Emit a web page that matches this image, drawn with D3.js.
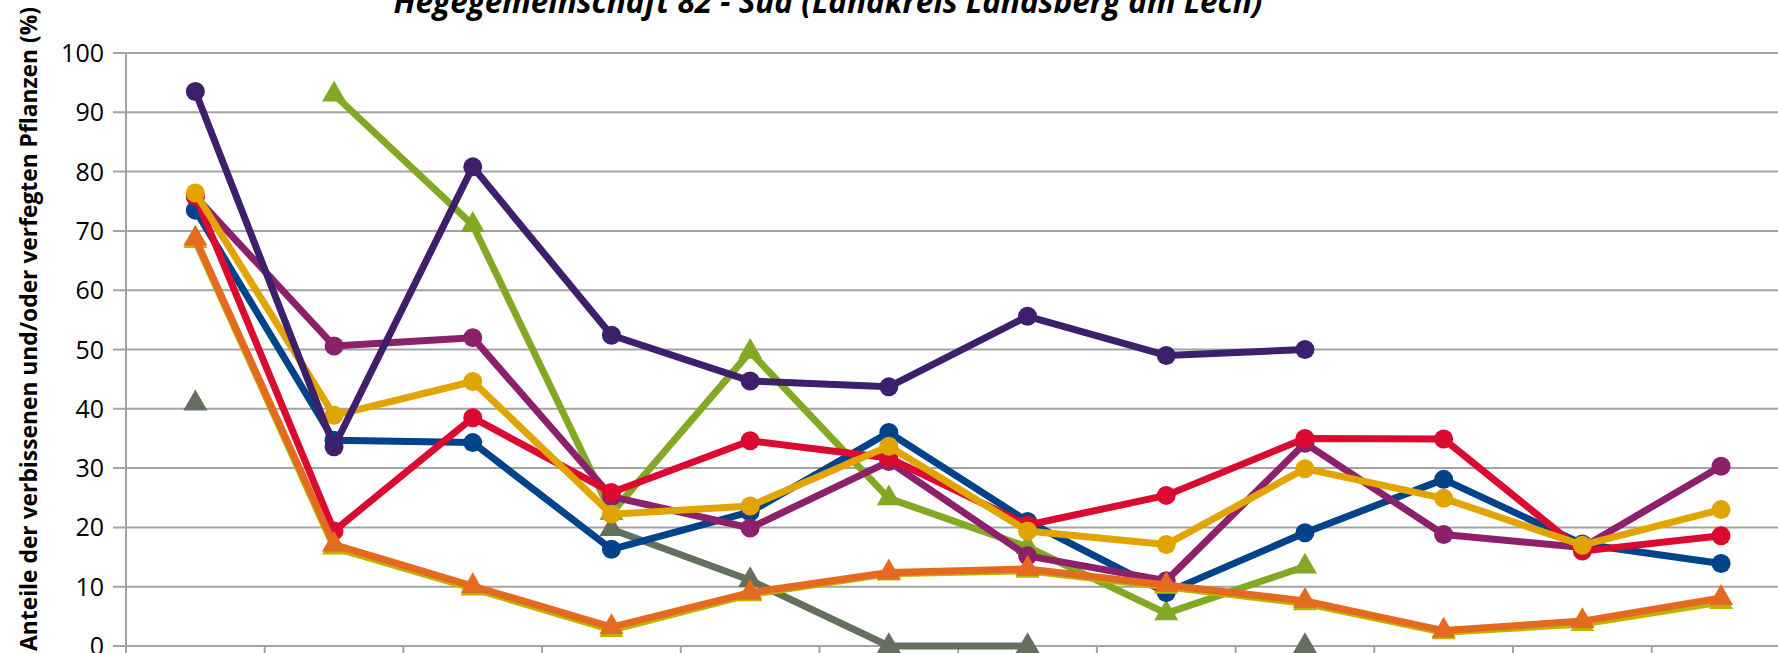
<!DOCTYPE html>
<html>
<head>
<meta charset="utf-8">
<script src="https://cdnjs.cloudflare.com/ajax/libs/d3/7.8.5/d3.min.js"></script>
<style>
  html, body { margin: 0; padding: 0; background: #fff; overflow: hidden; }
  svg { display: block; }
</style>
</head>
<body>
<div id="chart"></div>
<script>

// Survey rounds on the x axis (labels sit below the visible area)
var categories = ["1", "2", "3", "4", "5", "6", "7", "8", "9", "10", "11", "12"];

// Series values (%), null = no value
var seriesPurple  = [93.5, 33.6, 80.8, 52.4, 44.7, 43.7, 55.6, 49.0, 50.0, null, null, null];
var seriesGreen   = [null, 93.0, 71.0, 22.4, 49.6, 24.9, 16.7, 5.5, 13.4, null, null, null];
var seriesGrey    = [40.9, null, null, 19.7, 11.1, 0, 0, null, 0, null, null, null];
var seriesBlue    = [73.5, 34.7, 34.3, 16.3, 22.6, 36.0, 21.0, 9.0, 19.1, 28.1, 17.2, 13.9];
var seriesMagenta = [75.8, 50.6, 52.0, 25.2, 19.9, 31.1, 15.2, 11.0, 34.2, 18.8, 16.6, 30.3];
var seriesRed     = [75.9, 19.4, 38.5, 25.9, 34.6, 31.7, 20.4, 25.4, 35.0, 34.9, 16.0, 18.6];
var seriesGold    = [76.4, 38.9, 44.6, 22.2, 23.6, 33.7, 19.4, 17.1, 29.9, 24.9, 17.0, 23.0];
var seriesOlive   = [68.3, 16.6, 9.7, 2.7, 8.7, 12.2, 12.7, 10.0, 7.2, 2.3, 3.7, 7.4];
var seriesOrange  = [68.7, 17.1, 10.1, 3.2, 9.0, 12.4, 13.0, 10.3, 7.6, 2.6, 4.2, 8.1];

var yTicks = [0, 10, 20, 30, 40, 50, 60, 70, 80, 90, 100];

var titleText = "Hegegemeinschaft 82 - Süd (Landkreis Landsberg am Lech)";
var yTitleText = "Anteile der verbissenen und/oder verfegten Pflanzen (%)";

// drawing order = bottom to top
var series = [
    { values: seriesGrey,    color: "#646f5f", marker: "triangle" },
    { values: seriesGreen,   color: "#83a823", marker: "triangle" },
    { values: seriesBlue,    color: "#00438a", marker: "circle" },
    { values: seriesMagenta, color: "#8d206a", marker: "circle" },
    { values: seriesRed,     color: "#da0a30", marker: "circle" },
    { values: seriesGold,    color: "#e2a400", marker: "circle" },
    { values: seriesPurple,  color: "#3d1f6b", marker: "circle" },
    { values: seriesOlive,   color: "#bdb300", marker: "triangle" },
    { values: seriesOrange,  color: "#e36a1f", marker: "triangle" }
];

///////////////////////////////////////////////////////////////////////////
///////////////////////////// Set up the SVG //////////////////////////////
///////////////////////////////////////////////////////////////////////////

var width = 1778,
    height = 653;

var plotLeft = 126,
    plotTop = 53,
    plotBottom = 646,
    bandWidth = 138.7;

var svg = d3.select("#chart")
    .append("svg")
        .attr("width", width)
        .attr("height", height);

// the plot runs past the right edge of the picture
var x = d3.scaleBand()
    .domain(categories)
    .range([plotLeft, plotLeft + bandWidth * categories.length]);

var y = d3.scaleLinear()
    .domain([0, 100])
    .range([plotBottom, plotTop]);

///////////////////////////////////////////////////////////////////////////
////////////////////////////////// Axes ///////////////////////////////////
///////////////////////////////////////////////////////////////////////////

// Gridlines with their outer tick
svg.append("g")
    .selectAll("line")
    .data(yTicks)
    .enter()
    .append("line")
        .attr("x1", plotLeft - 13)
        .attr("x2", width)
        .attr("y1", d => y(d))
        .attr("y2", d => y(d))
        .style("stroke", "#a3a3a3")
        .style("stroke-width", 2);

// Y tick labels
svg.append("g")
    .selectAll("text")
    .data(yTicks)
    .enter()
    .append("text")
        .attr("x", plotLeft - 22)
        .attr("y", d => y(d))
        .attr("dy", "0.36em")
        .attr("text-anchor", "end")
        .text(d => d)
        .style("font-family", "'Open Sans', sans-serif")
        .style("font-size", "25px")
        .style("fill", "#000");

// Y axis line
svg.append("line")
    .attr("x1", plotLeft)
    .attr("x2", plotLeft)
    .attr("y1", plotTop)
    .attr("y2", height)
    .style("stroke", "#a3a3a3")
    .style("stroke-width", 2);

// X tick marks at category boundaries
svg.append("g")
    .selectAll("line")
    .data(categories)
    .enter()
    .append("line")
        .attr("x1", d => x(d) + x.bandwidth())
        .attr("x2", d => x(d) + x.bandwidth())
        .attr("y1", plotBottom)
        .attr("y2", height)
        .style("stroke", "#a3a3a3")
        .style("stroke-width", 2);

///////////////////////////////////////////////////////////////////////////
///////////////////////////////// Titles //////////////////////////////////
///////////////////////////////////////////////////////////////////////////

svg.append("text")
    .attr("x", 828)
    .attr("y", 13)
    .attr("text-anchor", "middle")
    .text(titleText)
    .style("font-family", "'Open Sans', sans-serif")
    .style("font-size", "31.5px")
    .style("font-weight", "bold")
    .style("font-style", "italic");

svg.append("text")
    .attr("transform", "translate(37," + 329 + ") rotate(-90)")
    .attr("text-anchor", "middle")
    .text(yTitleText)
    .style("font-family", "'Open Sans', sans-serif")
    .style("font-size", "22.8px")
    .style("font-weight", "bold");

///////////////////////////////////////////////////////////////////////////
///////////////////////////////// Series //////////////////////////////////
///////////////////////////////////////////////////////////////////////////

var cx = i => x(categories[i]) + x.bandwidth() / 2;

var line = d3.line()
    .defined(d => d != null)
    .x((d, i) => cx(i))
    .y(d => y(d));

var triangle = d3.symbol().type(d3.symbolTriangle).size(250);

series.forEach(function(s) {

    var g = svg.append("g");

    g.append("path")
        .attr("d", line(s.values))
        .attr("fill", "none")
        .attr("stroke", s.color)
        .attr("stroke-width", 7)
        .attr("stroke-linejoin", "round");

    var pts = s.values
        .map((v, i) => ({ v: v, i: i }))
        .filter(d => d.v != null);

    if (s.marker == "circle") {
        g.selectAll("circle")
            .data(pts)
            .enter()
            .append("circle")
                .attr("cx", d => cx(d.i))
                .attr("cy", d => y(d.v))
                .attr("r", 9.5)
                .attr("fill", s.color);
    } else {
        g.selectAll("path.marker")
            .data(pts)
            .enter()
            .append("path")
                .attr("class", "marker")
                .attr("d", triangle)
                .attr("transform", d => "translate(" + cx(d.i) + "," + y(d.v) + ")")
                .attr("fill", s.color);
    }
});

</script>
</body>
</html>
